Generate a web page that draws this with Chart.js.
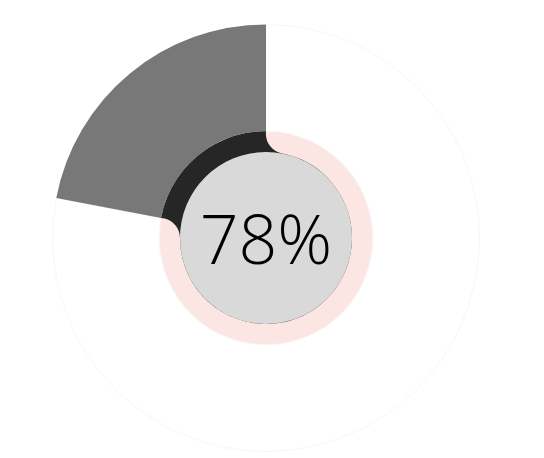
<!DOCTYPE html>
<html><head><meta charset="utf-8">
<script src="https://cdn.jsdelivr.net/npm/chart.js@4/dist/chart.umd.min.js"></script>
<style>
html,body{margin:0;padding:0;background:#fff;}
#wrap{position:relative;width:544px;height:458px;overflow:hidden;}
#wrap canvas{position:absolute;left:0;top:0;}
</style></head><body>
<div id="wrap">
<canvas id="base" width="544" height="458"></canvas>
<canvas id="band" width="544" height="458"></canvas>
<canvas id="outer" width="544" height="458"></canvas>
</div>
<script>
// ---- data ----
const categories = ['Complete', 'Remaining'];
const completeValues = [78, 22];
const trackValues = [100];
const centerValues = [100];
const centerLabel = completeValues[0] + '%';

const common = () => ({
  responsive: false,
  animation: false,
  events: [],
  devicePixelRatio: 1,
  layout: { padding: { top: 24, bottom: 6, left: 0, right: 12 } },
  plugins: { legend: { display: false }, tooltip: { enabled: false } }
});

// bottom: dark track ring + grey centre disk
new Chart(document.getElementById('base'), {
  type: 'doughnut',
  data: {
    labels: ['Track'],
    datasets: [
      { data: trackValues, backgroundColor: '#262626', borderWidth: 0, weight: 21 },
      { data: centerValues, backgroundColor: '#d9d9d9', borderWidth: 0, weight: 86 }
    ]
  },
  options: Object.assign(common(), { radius: '50%', cutout: 0 })
});

// middle: pink progress band with rounded inner corners
new Chart(document.getElementById('band'), {
  type: 'doughnut',
  data: {
    labels: categories,
    datasets: [{
      data: completeValues,
      backgroundColor: ['#fbe6e3', 'rgba(0,0,0,0)'],
      borderWidth: 0,
      borderRadius: { outerStart: 0, outerEnd: 0, innerStart: 20, innerEnd: 20 }
    }]
  },
  options: Object.assign(common(), { radius: '60%', cutout: '67%' })
});

// top: outer wide ring + centre label
const centerText = {
  id: 'centerText',
  afterDraw(chart) {
    const arc = chart.getDatasetMeta(0).data[0];
    const ctx = chart.ctx;
    ctx.save();
    ctx.font = '300 68px "Open Sans"';
    ctx.fillStyle = '#000000';
    ctx.textAlign = 'center';
    ctx.textBaseline = 'alphabetic';
    const m = ctx.measureText(centerLabel);
    ctx.fillText(centerLabel, arc.x, arc.y + (m.actualBoundingBoxAscent - m.actualBoundingBoxDescent) / 2 + 1.5);
    ctx.restore();
  }
};

new Chart(document.getElementById('outer'), {
  type: 'doughnut',
  data: {
    labels: categories,
    datasets: [{
      data: completeValues,
      backgroundColor: ['#ffffff', '#787878'],
      borderColor: ['#f6f6f6', '#787878'],
      borderWidth: [1, 0]
    }]
  },
  options: Object.assign(common(), { radius: '100%', cutout: '50%' }),
  plugins: [centerText]
});
</script>
</body></html>
